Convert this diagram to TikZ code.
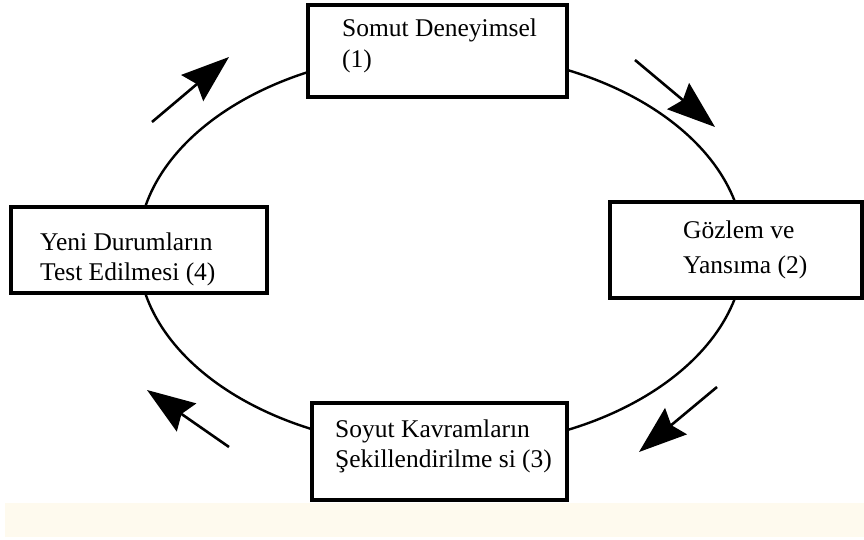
\documentclass[tikz,border=0pt]{standalone}
\usepackage{fontspec}
\setmainfont{Liberation Serif}
\usetikzlibrary{arrows.meta}
\definecolor{bandcolor}{HTML}{FEFAEE}
\begin{document}
\begin{tikzpicture}[x=1pt,y=-1pt,
  box/.style={draw=black, line width=3.2pt, fill=white, inner sep=0pt},
  lbl/.style={anchor=base west, align=left, inner sep=0pt, font=\fontsize{25.5}{30}\selectfont},
  cyc/.style={line width=2.4pt},
  flow/.style={line width=2.6pt, -{Stealth[length=48pt,width=34pt,inset=6pt]}}]
\useasboundingbox (0,0) rectangle (864,540);
\fill[white] (0,0) rectangle (864,540);
\fill[bandcolor] (5,503) rectangle (864,537);
\draw[cyc] (441,250) ellipse [x radius=303, y radius=198];
% boxes
\node[box, minimum width=259pt, minimum height=92pt] (b1) at (437.5,51) {};
\node[box, minimum width=252pt, minimum height=96pt] (b2) at (736,250) {};
\node[box, minimum width=255pt, minimum height=97pt] (b3) at (439.5,451.5) {};
\node[box, minimum width=256pt, minimum height=86pt] (b4) at (139,250) {};
% labels (anchored at the baseline of the last line)
\node[lbl] (t1) at (342,68) {Somut Deneyimsel\\[1pt](1)};
\node[lbl] (t2) at (683,273) {Gözlem ve\\[5pt]Yansıma (2)};
\node[lbl] (t3) at (335,467) {Soyut Kavramların\\Şekillendirilme si (3)};
\node[lbl] (t4) at (40,280) {Yeni Durumların\\Test Edilmesi (4)};
% arrows
\coordinate (a1s) at (152,122); \coordinate (a1e) at (229,57);
\coordinate (a2s) at (635,60);  \coordinate (a2e) at (715,127);
\coordinate (a3s) at (717,387); \coordinate (a3e) at (639,452);
\coordinate (a4s) at (229,447); \coordinate (a4e) at (147,390);
\draw[flow] (a1s) -- (a1e);
\draw[flow] (a2s) -- (a2e);
\draw[flow] (a3s) -- (a3e);
\draw[flow] (a4s) -- (a4e);
\end{tikzpicture}
\end{document}
